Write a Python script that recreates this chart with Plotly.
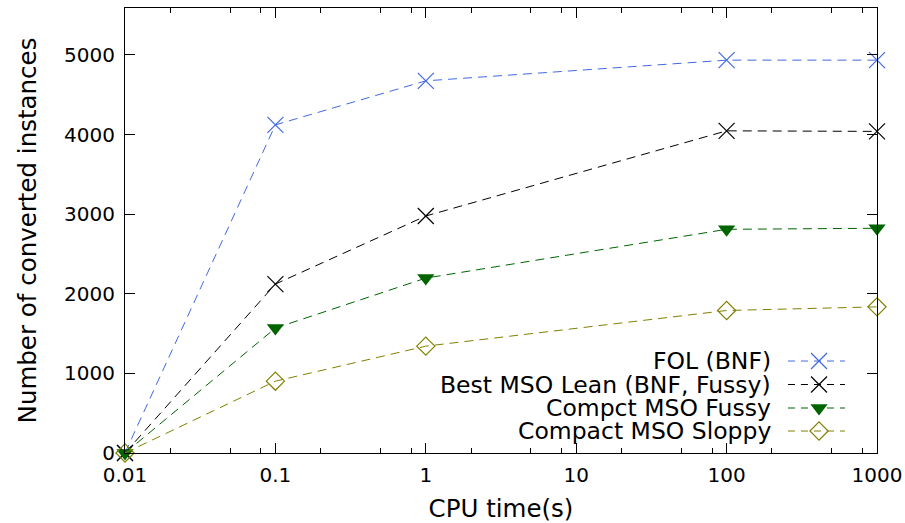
import plotly.graph_objects as go

cpu_time = [0.01, 0.1, 1, 100, 1000]
fol_bnf = [0, 4122, 4675, 4935, 4935]
best_mso_lean = [0, 2122, 2977, 4047, 4040]
compct_mso_fussy = [0, 1569, 2197, 2810, 2823]
compact_mso_sloppy = [0, 902, 1342, 1790, 1836]

series_names = ["FOL (BNF)", "Best MSO Lean (BNF, Fussy)", "Compct MSO Fussy", "Compact MSO Sloppy"]
series_values = [fol_bnf, best_mso_lean, compct_mso_fussy, compact_mso_sloppy]

x_tickvals = [0.01, 0.1, 1, 10, 100, 1000]
x_ticktext = ["0.01", "0.1", "1", "10", "100", "1000"]
y_tickvals = [0, 1000, 2000, 3000, 4000, 5000]

colors = ["#4169e1", "#000000", "#006400", "#808000"]
markers = [
    dict(symbol="x-thin", size=16, line=dict(width=1.2, color=colors[0]), color=colors[0]),
    dict(symbol="x-thin", size=16, line=dict(width=1.2, color=colors[1]), color=colors[1]),
    dict(symbol="triangle-down", size=15, color=colors[2], line=dict(width=0)),
    dict(symbol="diamond-open", size=14, color=colors[3], line=dict(width=1.2, color=colors[3])),
]
dash = "9px,6px"

FONT = "DejaVu Sans"
FS_LEG = 23.5
FS_TICK = 20
FS_TITLE = 24.5

fig = go.Figure()
for name, vals, c, m in zip(series_names, series_values, colors, markers):
    fig.add_trace(go.Scatter(
        x=cpu_time, y=vals, mode="lines+markers", name=name,
        line=dict(color=c, width=1, dash=dash), marker=m,
        cliponaxis=False, showlegend=False,
    ))

# custom legend (text on left, sample on right, gnuplot style)
leg_text_x = 0.8617
leg_line_x = [0.8816, 0.9229, 0.9574]
leg_rows = [0.2067, 0.1539, 0.1011, 0.0494]
for name, c, m, ry in zip(series_names, colors, markers, leg_rows):
    fig.add_trace(go.Scatter(
        x=leg_line_x, y=[ry, ry, ry], xaxis="x2", yaxis="y2",
        mode="lines", line=dict(color=c, width=1, dash="7px,6px"),
        showlegend=False, hoverinfo="skip", cliponaxis=False,
    ))
    fig.add_trace(go.Scatter(
        x=[leg_line_x[1]], y=[ry], xaxis="x2", yaxis="y2",
        mode="markers", marker=m, showlegend=False, hoverinfo="skip", cliponaxis=False,
    ))
    fig.add_annotation(
        x=leg_text_x, y=ry, xref="paper", yref="paper", text=name,
        showarrow=False, xanchor="right", yanchor="middle",
        font=dict(family=FONT, size=FS_LEG, color="black"),
    )

minor_vals = []
for d in [0.01, 0.1, 1, 10, 100]:
    minor_vals += [2 * d, 5 * d, 8 * d]

fig.update_layout(
    width=905, height=523,
    margin=dict(l=125, r=28, t=8, b=70),
    paper_bgcolor="white", plot_bgcolor="white",
    font=dict(family=FONT, size=FS_TICK, color="black"),
    xaxis=dict(
        type="log", range=[-2, 3], automargin=False,
        tickmode="array", tickvals=x_tickvals, ticktext=x_ticktext,
        ticks="inside", ticklen=10, tickwidth=1, tickcolor="black",
        showline=True, linecolor="black", linewidth=1, mirror="allticks",
        showgrid=False, zeroline=False,
        minor=dict(tickmode="array", tickvals=minor_vals, ticks="inside", ticklen=5,
                   tickwidth=1, tickcolor="black", showgrid=False),
        title=dict(text="CPU time(s)", font=dict(family=FONT, size=FS_TITLE), standoff=19),
        ticklabelstandoff=4, ticklabeloverflow="allow",
        tickfont=dict(family=FONT, size=FS_TICK),
    ),
    yaxis=dict(
        range=[0, 5590], automargin=False,
        tickmode="array", tickvals=y_tickvals,
        ticks="inside", ticklen=10, tickwidth=1, tickcolor="black",
        showline=True, linecolor="black", linewidth=1, mirror="allticks",
        showgrid=False, zeroline=False,
        title=dict(text="Number of converted instances", font=dict(family=FONT, size=FS_TITLE), standoff=20),
        ticklabelstandoff=5, ticklabeloverflow="allow",
        tickfont=dict(family=FONT, size=FS_TICK),
    ),
    xaxis2=dict(overlaying="x", range=[0, 1], visible=False, domain=[0, 1]),
    yaxis2=dict(overlaying="y", range=[0, 1], visible=False),
)

fig.write_html(
    "out.html",
    config={"displayModeBar": False},
    post_script="document.body.style.margin='0';document.body.style.overflow='hidden';",
)
